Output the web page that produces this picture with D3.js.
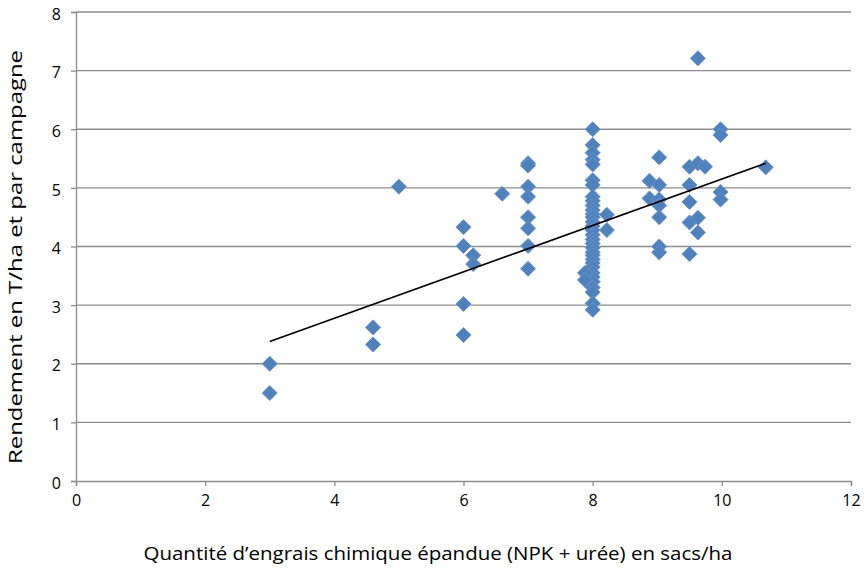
<!DOCTYPE html>
<html><head><meta charset="utf-8">
<script src="https://cdn.jsdelivr.net/npm/d3@7"></script>
<style>body{margin:0;background:#fff}svg{display:block}</style>
</head><body>
<svg id="chart" width="864" height="571"></svg>
<script>
// Data
const fertilizer = [
  3, 3,
  4.6, 4.6,
  5,
  6, 6, 6, 6,
  6.15, 6.15,
  6.6,
  7, 7, 7, 7, 7, 7, 7, 7,
  8, 8, 8, 8, 8, 8, 8, 8, 8, 8, 8, 8, 8, 8, 8, 8, 8, 8, 8, 8, 8, 8, 8, 8, 8, 8, 8, 8, 8, 8, 8, 8,
  7.88, 7.88,
  8.22, 8.22,
  8.88, 8.88,
  9.03, 9.03, 9.03, 9.03, 9.03, 9.03, 9.03,
  9.5, 9.5, 9.5, 9.5, 9.5,
  9.63, 9.63, 9.63, 9.63,
  9.74,
  9.98, 9.98, 9.98, 9.98,
  10.68
];
const yieldT = [
  2.0, 1.5,
  2.62, 2.33,
  5.02,
  4.33, 4.01, 3.02, 2.49,
  3.85, 3.7,
  4.9,
  5.42, 5.38, 5.02, 4.85, 4.5, 4.31, 4.01, 3.62,
  6.0, 5.73, 5.6, 5.48, 5.4, 5.13, 5.05, 4.85, 4.78, 4.7, 4.62, 4.55, 4.5, 4.42, 4.35, 4.28, 4.2, 4.12, 4.05, 3.98, 3.9, 3.85, 3.78, 3.72, 3.65, 3.55, 3.48, 3.4, 3.3, 3.22, 3.03, 2.92,
  3.55, 3.43,
  4.54, 4.28,
  5.12, 4.82,
  5.52, 5.05, 4.8, 4.7, 4.5, 4.0, 3.9,
  5.36, 5.05, 4.76, 4.41, 3.87,
  7.21, 5.42, 4.49, 4.24,
  5.36,
  6.0, 5.9, 4.93, 4.8,
  5.35
];
const trendX = [3, 10.68];
const trendY = [2.38, 5.42];
const xTicks = [0, 2, 4, 6, 8, 10, 12];
const yTicks = [0, 1, 2, 3, 4, 5, 6, 7, 8];
const xTitle = "Quantité d\u2019engrais chimique épandue (NPK + urée) en sacs/ha";
const yTitle = "Rendement en T/ha et par campagne";

const svg = d3.select("#chart");
const L = 76, R = 851, T = 12, B = 481;
const x = d3.scaleLinear().domain([0, 12]).range([L, R]);
const y = d3.scaleLinear().domain([0, 8]).range([B, T]);
const font = "'Open Sans', 'DejaVu Sans', sans-serif";
const gray = "#8c8c8c";

// gridlines
svg.append("g").selectAll("line").data(yTicks.filter(d => d > 0)).join("line")
  .attr("x1", L).attr("x2", R).attr("y1", d => y(d)).attr("y2", d => y(d))
  .attr("stroke", gray).attr("stroke-width", 1.3);

// y axis
const yAxis = svg.append("g").attr("transform", `translate(${L},0)`)
  .call(d3.axisLeft(y).tickValues(yTicks).tickSize(5).tickPadding(10).tickFormat(d3.format("d")));
yAxis.select(".domain").attr("stroke", gray).attr("stroke-width", 1.3);
yAxis.selectAll(".tick line").attr("stroke", gray).attr("stroke-width", 1.3);
yAxis.selectAll("text").attr("font-family", font).attr("font-size", 16).attr("fill", "#000").attr("dy", "0.45em");

// x axis
const xAxis = svg.append("g").attr("transform", `translate(0,${B})`)
  .call(d3.axisBottom(x).tickValues(xTicks).tickSize(5).tickPadding(9).tickFormat(d3.format("d")));
xAxis.select(".domain").attr("stroke", gray).attr("stroke-width", 1.3);
xAxis.selectAll(".tick line").attr("stroke", gray).attr("stroke-width", 1.3);
xAxis.selectAll("text").attr("font-family", font).attr("font-size", 16).attr("fill", "#000");

// points (diamonds)
const pts = fertilizer.map((v, i) => [v, yieldT[i]]);
const r = 7.5;
svg.append("g").selectAll("path").data(pts).join("path")
  .attr("d", `M0,${-r}L${r},0L0,${r}L${-r},0Z`)
  .attr("transform", d => `translate(${x(d[0])},${y(d[1])})`)
  .attr("fill", "#4f81bd").attr("stroke", "#6a94c8").attr("stroke-width", 1)
  .attr("stroke-linejoin", "round");

// trend line
svg.append("line")
  .attr("x1", x(trendX[0])).attr("y1", y(trendY[0]))
  .attr("x2", x(trendX[1])).attr("y2", y(trendY[1]))
  .attr("stroke", "#000").attr("stroke-width", 1.8);

// titles
svg.append("text").attr("x", 438).attr("y", 560).attr("text-anchor", "middle")
  .attr("font-family", font).attr("font-size", 18).attr("fill", "#000")
  .attr("textLength", 589).attr("lengthAdjust", "spacingAndGlyphs").text(xTitle);
svg.append("text").attr("transform", "translate(22,257) rotate(-90)").attr("text-anchor", "middle")
  .attr("font-family", font).attr("font-size", 18).attr("fill", "#000")
  .attr("textLength", 414).attr("lengthAdjust", "spacingAndGlyphs").text(yTitle);
</script>
</body></html>
